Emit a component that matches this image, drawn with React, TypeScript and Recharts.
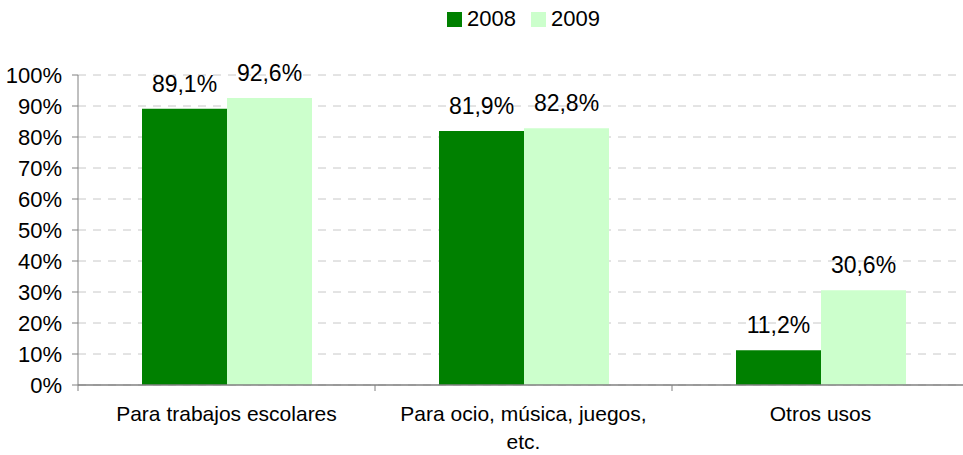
import { BarChart, Bar, XAxis, YAxis, CartesianGrid, Legend, LabelList } from 'recharts';

const categories = ['Para trabajos escolares', 'Para ocio, música, juegos,\netc.', 'Otros usos'];
const values2008 = [89.1, 81.9, 11.2];
const values2009 = [92.6, 82.8, 30.6];
const seriesNames = ['2008', '2009'];
const yTicks = [0, 10, 20, 30, 40, 50, 60, 70, 80, 90, 100];

const COLORS = ['#008000', '#CCFFCC'];
const FONT = '"Liberation Sans", Arial, sans-serif';
const AXIS = '#808080';

document.body.style.margin = '0';

const data = categories.map((name, i) => ({
  name,
  y2008: values2008[i],
  y2009: values2009[i],
}));

const fmt = (v: number) => v.toFixed(1).replace('.', ',') + '%';

// category labels + tick marks at the band boundaries (like Excel)
function CategoryTick(props: any) {
  const { x, y, payload, index, width, visibleTicksCount } = props;
  const lines = String(payload.value).split('\n');
  const half = width / visibleTicksCount / 2;
  return (
    <g>
      <line x1={x - half} x2={x - half} y1={y} y2={y + 6} stroke={AXIS} />
      {index === visibleTicksCount - 1 && (
        <line x1={x + half} x2={x + half} y1={y} y2={y + 6} stroke={AXIS} />
      )}
      <text x={x} y={y} textAnchor="middle" fontSize={21} fill="#000" fontFamily={FONT}>
        {lines.map((l, i) => (
          <tspan key={i} x={x} dy={i === 0 ? 36 : 28}>
            {l}
          </tspan>
        ))}
      </text>
    </g>
  );
}

function LegendContent() {
  return (
    <div style={{ display: 'flex', justifyContent: 'center', alignItems: 'center', height: 30, fontFamily: FONT, fontSize: 22, color: '#000' }}>
      {seriesNames.map((s, i) => (
        <div key={s} style={{ display: 'flex', alignItems: 'center', marginLeft: i === 0 ? 0 : 15 }}>
          <div style={{ width: 15, height: 15, background: COLORS[i], marginRight: 5 }} />
          <span>{s}</span>
        </div>
      ))}
    </div>
  );
}

const labelStyle = { fontSize: 23, fill: '#000', fontFamily: FONT };

export default function App() {
  return (
    <div style={{ width: 963, height: 455, overflow: 'hidden', background: '#fff' }}>
      <BarChart
        width={969}
        height={455}
        data={data}
        margin={{ top: 45, right: 0, bottom: 0, left: 0 }}
        barGap={0}
      >
        <CartesianGrid vertical={false} stroke="#c8c8c8" strokeDasharray="8 7" />
        <XAxis
          dataKey="name"
          tick={<CategoryTick />}
          tickLine={false}
          tickSize={0}
          tickMargin={0}
          axisLine={{ stroke: AXIS, strokeWidth: 1.5 }}
          interval={0}
          height={70}
        />
        <YAxis
          domain={[0, 100]}
          ticks={yTicks}
          tickFormatter={(v: number) => `${v}%`}
          width={78}
          tickSize={6}
          tickMargin={10}
          axisLine={{ stroke: AXIS }}
          tickLine={{ stroke: AXIS }}
          tick={{ fontSize: 22, fill: '#000', fontFamily: FONT }}
        />
        <Legend
          verticalAlign="top"
          content={<LegendContent />}
          wrapperStyle={{ top: 4, left: 78, width: 891 }}
        />
        <Bar dataKey="y2008" name={seriesNames[0]} fill={COLORS[0]} barSize={85} isAnimationActive={false}>
          <LabelList dataKey="y2008" position="top" offset={17} formatter={(v: any) => fmt(Number(v))} style={labelStyle} />
        </Bar>
        <Bar dataKey="y2009" name={seriesNames[1]} fill={COLORS[1]} barSize={85} isAnimationActive={false}>
          <LabelList dataKey="y2009" position="top" offset={17} formatter={(v: any) => fmt(Number(v))} style={labelStyle} />
        </Bar>
      </BarChart>
    </div>
  );
}
